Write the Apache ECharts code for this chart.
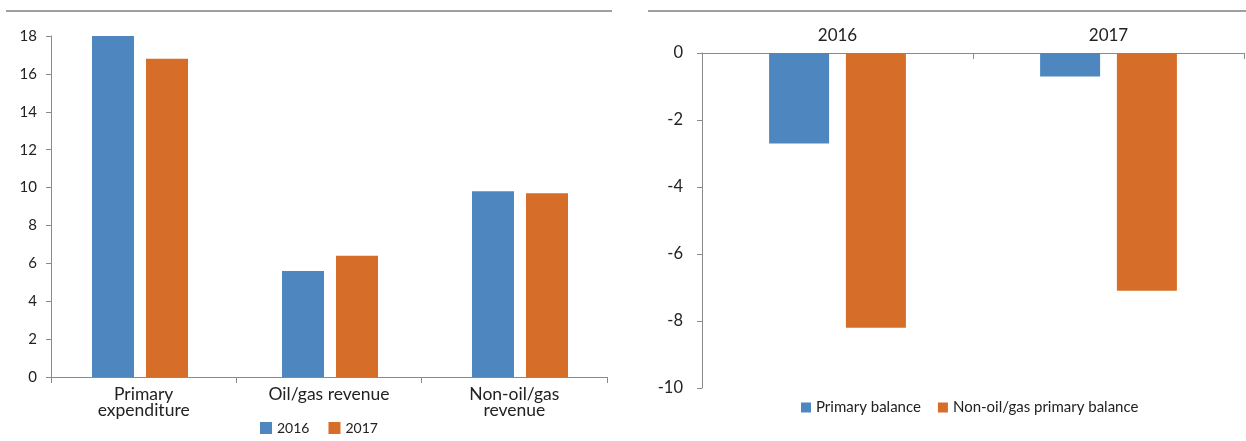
<!DOCTYPE html>
<html>
<head>
<meta charset="utf-8">
<script src="https://cdn.jsdelivr.net/npm/echarts@6/dist/echarts.min.js"></script>
<style>
  html, body { margin: 0; padding: 0; background: #fff; }
  #chart { width: 1246px; height: 441px; }
</style>
</head>
<body>
<div id="chart"></div>
<script>
// Left panel: spending and revenue, percent
const flowCategories = ['Primary\nexpenditure', 'Oil/gas revenue', 'Non-oil/gas\nrevenue'];
const flow2016 = [18.0, 5.6, 9.8];
const flow2017 = [16.8, 6.4, 9.7];
const flowTicks = { min: 0, max: 18, step: 2 };

// Right panel: balances, percent
const balanceYears = ['2016', '2017'];
const primaryBalance = [-2.7, -0.7];
const nonOilPrimaryBalance = [-8.2, -7.1];
const balanceTicks = { min: -10, max: 0, step: 2 };

const BLUE = '#4E87BF';
const ORANGE = '#D66E29';
const AXIS = '#8a8a8a';
const TEXT = '#222';
const FONT = 'Lato, "Open Sans", sans-serif';

const chart = echarts.init(document.getElementById('chart'), null, { renderer: 'canvas' });

chart.setOption({
  animation: false,
  textStyle: { fontFamily: FONT, color: TEXT },
  graphic: [
    { type: 'line', shape: { x1: 6, y1: 11, x2: 612, y2: 11 }, style: { stroke: '#7f7f7f', lineWidth: 1.5 } },
    { type: 'line', shape: { x1: 648, y1: 11, x2: 1246, y2: 11 }, style: { stroke: '#7f7f7f', lineWidth: 1.5 } }
  ],
  legend: [
    {
      data: ['2016', '2017'],
      left: 255, top: 416,
      itemWidth: 12, itemHeight: 12, itemGap: 19,
      icon: 'rect',
      textStyle: { fontFamily: FONT, fontSize: 14, color: TEXT }
    },
    {
      data: ['Primary balance', 'Non-oil/gas primary balance'],
      left: 796, top: 395,
      itemWidth: 10, itemHeight: 10, itemGap: 17,
      icon: 'rect',
      textStyle: { fontFamily: FONT, fontSize: 15, color: TEXT }
    }
  ],
  grid: [
    // left panel frame (axes and labels)
    { left: 51, top: 36, width: 556, height: 341 },
    // right panel
    { left: 702, top: 53, width: 542, height: 335 },
    // left panel bars
    { left: 45, top: 36, width: 570, height: 341 }
  ],
  xAxis: [
    {
      gridIndex: 0,
      type: 'category',
      data: flowCategories,
      axisLine: { lineStyle: { color: AXIS, width: 1 } },
      axisTick: { show: true, length: 6, lineStyle: { color: AXIS } },
      axisLabel: { interval: 0, color: TEXT, fontSize: 17.5, lineHeight: 16.5, margin: 9, fontFamily: FONT }
    },
    {
      gridIndex: 1,
      type: 'category',
      data: balanceYears,
      position: 'top',
      axisLine: { onZero: false, lineStyle: { color: AXIS, width: 1 } },
      axisTick: { show: true, inside: true, length: 6, lineStyle: { color: AXIS } },
      axisLabel: { interval: 0, color: TEXT, fontSize: 17, margin: 9, fontFamily: FONT }
    },
    {
      gridIndex: 2,
      type: 'category',
      data: flowCategories,
      show: false
    }
  ],
  yAxis: [
    {
      gridIndex: 0,
      type: 'value',
      min: flowTicks.min, max: flowTicks.max, interval: flowTicks.step,
      axisLine: { show: true, lineStyle: { color: AXIS } },
      axisTick: { show: true, length: 5, lineStyle: { color: AXIS } },
      splitLine: { show: false },
      axisLabel: { color: TEXT, fontSize: 15, margin: 14, fontFamily: FONT }
    },
    {
      gridIndex: 1,
      type: 'value',
      min: balanceTicks.min, max: balanceTicks.max, interval: balanceTicks.step,
      axisLine: { show: true, lineStyle: { color: AXIS } },
      axisTick: { show: true, length: 5, lineStyle: { color: AXIS } },
      splitLine: { show: false },
      axisLabel: { color: TEXT, fontSize: 16.5, margin: 19, fontFamily: FONT }
    },
    {
      gridIndex: 2,
      type: 'value',
      min: flowTicks.min, max: flowTicks.max, interval: flowTicks.step,
      show: false,
      splitLine: { show: false }
    }
  ],
  series: [
    {
      name: '2016', type: 'bar', xAxisIndex: 2, yAxisIndex: 2,
      data: flow2016, barWidth: 42, barGap: '28.6%',
      itemStyle: { color: BLUE }
    },
    {
      name: '2017', type: 'bar', xAxisIndex: 2, yAxisIndex: 2,
      data: flow2017, barWidth: 42, barGap: '28.6%',
      itemStyle: { color: ORANGE }
    },
    {
      name: 'Primary balance', type: 'bar', xAxisIndex: 1, yAxisIndex: 1,
      data: primaryBalance, barWidth: 60, barGap: '28%',
      itemStyle: { color: BLUE }
    },
    {
      name: 'Non-oil/gas primary balance', type: 'bar', xAxisIndex: 1, yAxisIndex: 1,
      data: nonOilPrimaryBalance, barWidth: 60, barGap: '28%',
      itemStyle: { color: ORANGE }
    }
  ]
});
</script>
</body>
</html>
